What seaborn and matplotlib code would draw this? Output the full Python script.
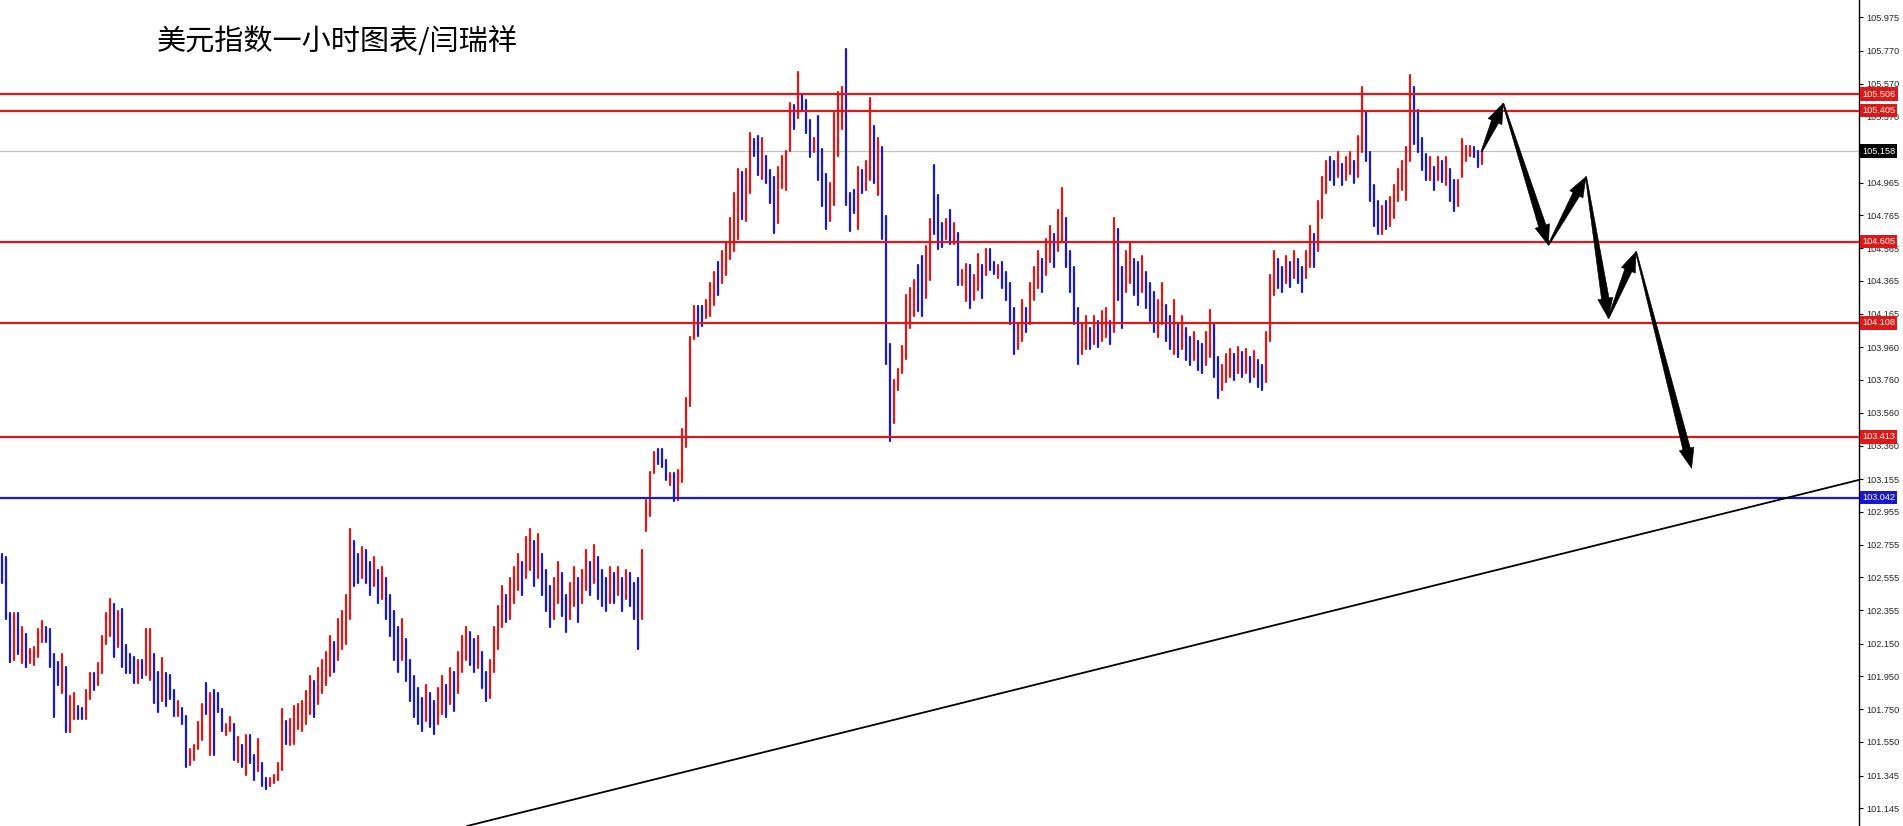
import numpy as np
import pandas as pd
import matplotlib
matplotlib.use("Agg")
import matplotlib.pyplot as plt
import seaborn as sns
from matplotlib.patches import Polygon

# hourly bars, high / low per bar (each drawn bar = 2 source bars)
high_a = [102.70, 102.68, 102.34, 102.34, 102.34, 102.25, 102.21, 102.12, 102.13, 102.24,
          102.29, 102.25, 102.24, 102.09, 102.04, 102.09, 102.01, 101.83, 101.85, 101.77,
          101.76, 101.87, 101.97, 101.97, 102.03, 102.20, 102.34, 102.42, 102.39, 102.35,
          102.36, 102.14, 102.09, 102.07, 102.05, 102.05, 102.24, 102.24, 102.09, 101.98,
          102.06, 101.97, 101.96, 101.87, 101.80, 101.76, 101.71, 101.51, 101.53, 101.67,
          101.78, 101.91, 101.85, 101.87, 101.85, 101.75, 101.66, 101.70, 101.66, 101.58,
          101.53, 101.59, 101.59, 101.47, 101.57, 101.42, 101.33, 101.33, 101.35, 101.42,
          101.75, 101.68, 101.69, 101.77, 101.78]
low_a = [102.52, 102.30, 102.04, 102.05, 102.09, 102.03, 102.01, 102.03, 102.02, 102.07,
         102.16, 102.16, 102.01, 101.70, 101.90, 101.85, 101.61, 101.61, 101.69, 101.69,
         101.69, 101.69, 101.81, 101.87, 101.90, 101.97, 102.15, 102.20, 102.07, 102.13,
         102.01, 101.97, 101.97, 101.91, 101.91, 101.94, 101.96, 101.93, 101.79, 101.73,
         101.80, 101.77, 101.81, 101.71, 101.71, 101.66, 101.40, 101.41, 101.44, 101.51,
         101.56, 101.72, 101.47, 101.47, 101.73, 101.62, 101.59, 101.62, 101.44, 101.43,
         101.40, 101.35, 101.42, 101.32, 101.37, 101.28, 101.26, 101.28, 101.30, 101.32,
         101.38, 101.54, 101.53, 101.54, 101.63]
dir_a = "bbbrbrbrrr" "rbbbbrbrrb" "brrbrrrrbr" "bbbbrbrrbb" "rbbbrbbrrr" "rbrbbbrrbr" "brbbrbbrrr" "rbrrr"

high_b = [101.80, 101.86, 101.95, 101.92, 102.00, 102.05, 102.10, 102.20, 102.16, 102.30,
          102.35, 102.45, 102.85, 102.78, 102.70, 102.74, 102.72, 102.65, 102.68, 102.60,
          102.62, 102.55, 102.45, 102.35, 102.25, 102.30, 102.18, 102.05, 101.95, 101.88,
          101.82, 101.90, 101.85, 101.80, 101.88, 101.95, 101.90, 102.00, 101.98, 102.10,
          102.20, 102.25, 102.22, 102.18, 102.20, 102.10, 101.98, 102.05, 102.25, 102.38,
          102.50, 102.45, 102.55, 102.62, 102.70, 102.65, 102.80, 102.85, 102.78, 102.82,
          102.70, 102.60, 102.50, 102.55, 102.65, 102.58, 102.45, 102.52, 102.62, 102.55,
          102.60, 102.72, 102.65, 102.75, 102.68, 102.60, 102.55, 102.62, 102.58, 102.62,
          102.55, 102.60, 102.58, 102.52, 102.55, 102.72]
low_b = [101.62, 101.66, 101.72, 101.70, 101.78, 101.85, 101.90, 101.95, 101.98, 102.05,
         102.12, 102.15, 102.30, 102.50, 102.52, 102.55, 102.52, 102.45, 102.50, 102.40,
         102.42, 102.30, 102.20, 102.05, 101.98, 102.05, 101.92, 101.80, 101.70, 101.66,
         101.62, 101.68, 101.64, 101.60, 101.66, 101.72, 101.70, 101.78, 101.74, 101.85,
         101.98, 102.05, 102.02, 101.98, 102.00, 101.88, 101.80, 101.82, 101.98, 102.12,
         102.25, 102.28, 102.30, 102.40, 102.48, 102.45, 102.55, 102.60, 102.50, 102.55,
         102.45, 102.35, 102.25, 102.30, 102.40, 102.32, 102.22, 102.30, 102.38, 102.28,
         102.40, 102.48, 102.45, 102.52, 102.42, 102.38, 102.35, 102.40, 102.40, 102.45,
         102.35, 102.42, 102.38, 102.30, 102.12, 102.30]
dir_b = "rrrbrrrrbr" "rrrbbrbbrb" "rbbbbrbbbb" "brbbrrbrbr" "rrbbrbbrrr" "rbrrrbrrbr" "bbbrrbbrrb" "rrbrbbbrbr" "brbbbr"

high_c = [103.03, 103.20, 103.32, 103.34, 103.34, 103.27, 103.19, 103.19, 103.21, 103.46,
          103.65, 104.02, 104.21, 104.21, 104.21, 104.25, 104.35, 104.42, 104.48, 104.55, 104.60]
low_c = [102.84, 102.93, 103.19, 103.25, 103.23, 103.15, 103.12, 103.02, 103.03, 103.14,
         103.35, 103.60, 104.01, 104.03, 104.09, 104.14, 104.15, 104.22, 104.28, 104.35, 104.40]
dir_c = "rrrbbbrbrrrrrbbr" "rrbrr"

high_e = [104.75, 104.90, 105.05, 105.03, 105.05, 105.27, 105.23, 105.25, 105.24, 105.13,
          105.04, 105.00, 105.06, 105.13, 105.16, 105.45, 105.44, 105.64, 105.50, 105.47,
          105.35, 105.24, 105.37, 105.17, 105.02, 104.96, 105.39, 105.52, 105.55, 105.78,
          104.90, 104.92, 105.06, 105.04, 105.10, 105.48, 105.31, 105.24, 105.18, 104.76]
low_e = [104.50, 104.55, 104.62, 104.74, 104.73, 104.90, 105.13, 105.01, 104.99, 104.96,
         104.84, 104.66, 104.72, 104.93, 104.92, 105.16, 105.29, 105.36, 105.41, 105.27,
         105.12, 105.15, 104.98, 104.82, 104.68, 104.73, 104.83, 105.13, 105.29, 104.83,
         104.67, 104.78, 104.68, 104.90, 104.92, 104.98, 104.96, 104.89, 104.62, 103.86]
dir_e = "rrrbrrbbrb" "bbrrrrbrbb" "brbbbrrrrb" "bbrbrrbrbb"

high_f = [103.98, 103.76, 103.83, 103.97, 104.28, 104.32, 104.37, 104.46, 104.52, 104.58,
          104.74, 105.07, 104.89, 104.72, 104.74, 104.80, 104.72, 104.66, 104.43, 104.47,
          104.46, 104.40, 104.53, 104.46, 104.56, 104.56, 104.48, 104.46]
low_f = [103.39, 103.50, 103.70, 103.80, 103.89, 104.08, 104.15, 104.18, 104.15, 104.26,
         104.37, 104.65, 104.56, 104.57, 104.62, 104.59, 104.59, 104.34, 104.34, 104.24,
         104.20, 104.25, 104.31, 104.26, 104.40, 104.43, 104.41, 104.38]
dir_f = "brrrrrrbbr" "rbbbrbrbrr" "brrbrbbr"

high_g = [104.48, 104.42, 104.35, 104.20, 104.10, 104.25, 104.20, 104.35, 104.45, 104.55,
          104.50, 104.62, 104.70, 104.65, 104.80, 104.93, 104.75, 104.55, 104.45, 104.20,
          104.10, 104.15, 104.08, 104.15, 104.12, 104.18, 104.20, 104.12, 104.75, 104.68,
          104.45, 104.55, 104.60, 104.50, 104.48, 104.52, 104.42, 104.35, 104.30, 104.25,
          104.35, 104.22, 104.15, 104.25, 104.10, 104.15, 104.08, 104.02, 104.05, 104.00,
          103.98, 104.05, 104.19, 104.10, 103.90, 103.85, 103.92, 103.95, 103.92, 103.96,
          103.93, 103.95, 103.90, 103.94, 103.88, 103.85, 104.05, 104.40, 104.55, 104.50,
          104.45, 104.52, 104.48, 104.55, 104.50, 104.45, 104.55, 104.70, 104.65, 104.85,
          105.00, 105.10, 105.12, 105.10, 105.15, 105.08, 105.12, 105.15, 105.10, 105.25,
          105.55, 105.40, 105.15, 104.95, 104.85, 104.82, 104.85, 104.88, 104.95, 105.05, 105.10]
low_g = [104.32, 104.25, 104.10, 103.92, 103.95, 104.00, 104.05, 104.10, 104.25, 104.32,
         104.30, 104.40, 104.48, 104.45, 104.55, 104.60, 104.45, 104.30, 104.10, 103.86,
         103.92, 103.95, 103.95, 103.98, 103.96, 104.00, 104.02, 103.98, 104.05, 104.25,
         104.08, 104.30, 104.35, 104.28, 104.22, 104.30, 104.20, 104.12, 104.05, 104.02,
         104.10, 104.00, 103.95, 103.92, 103.90, 103.95, 103.88, 103.85, 103.88, 103.82,
         103.80, 103.85, 103.90, 103.78, 103.65, 103.70, 103.75, 103.78, 103.76, 103.80,
         103.78, 103.80, 103.75, 103.78, 103.72, 103.70, 103.75, 104.00, 104.28, 104.32,
         104.30, 104.35, 104.33, 104.38, 104.35, 104.30, 104.38, 104.45, 104.45, 104.55,
         104.75, 104.90, 104.98, 104.95, 105.00, 104.95, 104.98, 105.02, 104.96, 105.00,
         105.15, 105.10, 104.85, 104.70, 104.65, 104.65, 104.68, 104.70, 104.75, 104.85, 104.92]
dir_g = ("bbbbrrbrrr" "brrbrrbbbb" "rrbrbrrbrb" "brrbbrbbbr" "rbbrbrbbrb"
         "brrbbrrrbr" "brbrbbrrrb" "brbrbbrrbr" "rrbbrbrrbr" "rbbbbrbrrrr")

high_h = [105.18, 105.62, 105.55, 105.41, 105.24, 105.14, 105.12, 105.06, 105.12, 105.10,
          105.12, 105.05, 104.98, 104.98, 105.23, 105.19, 105.19, 105.18, 105.16, 105.15]
low_h = [104.86, 105.10, 105.20, 105.15, 105.04, 104.98, 104.98, 104.92, 104.98, 104.97,
         104.95, 104.85, 104.79, 104.82, 105.00, 105.10, 105.13, 105.12, 105.06, 105.08]
dir_h = "rrbbbbrbrbrbbrrrrbbr"

# horizontal levels drawn on the chart
red_levels = [105.506, 105.405, 104.605, 104.108, 103.413]
blue_level = 103.042
bid_price = 105.158
tick_values = [105.975, 105.770, 105.570, 105.370, 104.965, 104.765, 104.565,
               104.365, 104.165, 103.960, 103.760, 103.560, 103.360, 103.155, 102.955,
               102.755, 102.555, 102.355, 102.150, 101.950, 101.750, 101.550, 101.345, 101.145]

# trend line anchors (bar index, price) and forecast arrow path
trend_x = [116.25, 464.25]
trend_y = [101.037, 103.15]
arrow_x = [369.9, 375.3, 386.6, 396.0, 401.6, 408.5, 422.4]
arrow_y = [105.154, 105.449, 104.584, 105.001, 104.137, 104.543, 103.221]

title = "美元指数一小时图表/闫瑞祥"

highs = high_a + high_b + high_c + high_e + high_f + high_g + high_h
lows = low_a + low_b + low_c + low_e + low_f + low_g + low_h
dirs = dir_a + dir_b + dir_c + dir_e + dir_f + dir_g + dir_h
assert len(highs) == len(lows) == len(dirs), (len(highs), len(lows), len(dirs))

n = len(highs)
rows = []
for i in range(n):
    rows.append((i, highs[i], i, dirs[i]))
    rows.append((i, lows[i], i, dirs[i]))
df = pd.DataFrame(rows, columns=["x", "price", "bar", "dir"])

sns.set_style("white")
plt.rcParams["font.family"] = ["Noto Sans CJK SC", "DejaVu Sans"]

W, H = 1903, 826
fig = plt.figure(figsize=(W / 100, H / 100), dpi=100)
ax = fig.add_axes([0, 0, 1859 / W, 1])
ax.set_xlim(-0.5, 464.25)
ax.set_ylim(101.037, 106.080)

RED = "#dc1818"
BLUE = "#1818d0"

sns.lineplot(data=df, x="x", y="price", units="bar", estimator=None, hue="dir",
             palette={"r": RED, "b": BLUE}, linewidth=1.6, legend=False,
             sort=False, ax=ax, zorder=3)

for lv in red_levels:
    ax.axhline(lv, color=RED, lw=1.6, zorder=4)
ax.axhline(blue_level, color=BLUE, lw=1.6, zorder=4)
ax.axhline(bid_price, color="#c0c0c0", lw=0.9, zorder=2)

ax.plot(trend_x, trend_y, color="black", lw=1.3, zorder=5)

# arrows: tapered shaft with a filled head
def draw_arrow(p0, p1):
    tr = ax.transData
    a = tr.transform(p0)
    b = tr.transform(p1)
    d = b - a
    u = d / np.hypot(*d)
    nrm = np.array([-u[1], u[0]])
    base = b - u * 20
    pts = [a + nrm * 0.6, base + nrm * 3.8, base + nrm * 7.5, b,
           base - nrm * 7.5, base - nrm * 3.8, a - nrm * 0.6]
    ax.add_patch(Polygon(tr.inverted().transform(pts), closed=True,
                         fc="black", ec="black", lw=0.4, zorder=6))

for k in range(len(arrow_x) - 1):
    draw_arrow((arrow_x[k], arrow_y[k]), (arrow_x[k + 1], arrow_y[k + 1]))

# right price axis
ax.set_xticks([])
ax.yaxis.tick_right()
ax.set_yticks(tick_values)
ax.set_yticklabels([f"{v:.3f}" for v in tick_values], fontsize=6.6,
                   family="Liberation Sans")
ax.tick_params(axis="y", length=3, width=0.8, color="black", pad=2, right=True)
ax.set_ylabel("")
ax.set_xlabel("")
for s in ["left", "top", "bottom"]:
    ax.spines[s].set_visible(False)
ax.spines["right"].set_color("black")
ax.spines["right"].set_linewidth(1.0)

tags = [(v, RED) for v in red_levels] + [(blue_level, BLUE), (bid_price, "black")]
for v, c in tags:
    ax.text(1.0 + 3 / 1859, v, f"{v:.3f}", transform=ax.get_yaxis_transform(),
            va="center", ha="left", fontsize=6.6, family="Liberation Sans",
            color="white", clip_on=False, zorder=10,
            bbox=dict(boxstyle="square,pad=0.25", fc=c, ec=c, lw=0))

fig.text(157 / W, 1 - 42 / H, title, fontsize=21, va="center", ha="left",
         color="black")

fig.savefig("out.png", dpi=100)
